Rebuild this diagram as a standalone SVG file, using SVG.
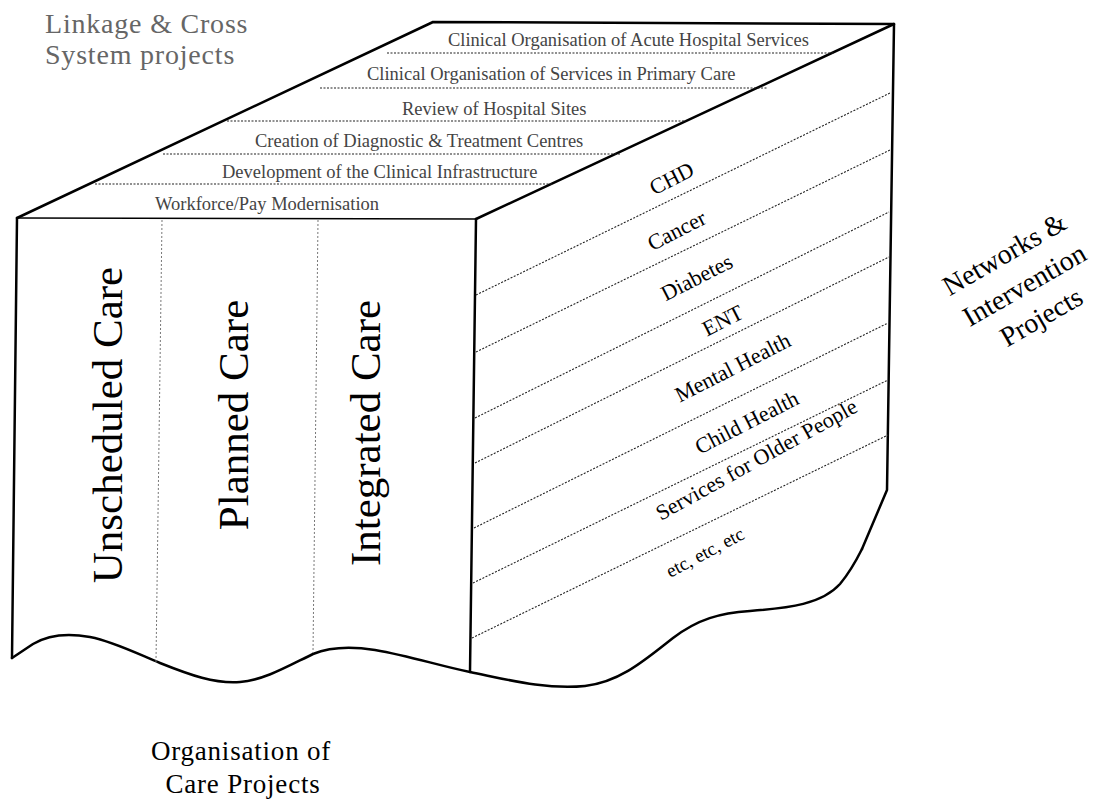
<svg xmlns="http://www.w3.org/2000/svg" width="1101" height="810" viewBox="0 0 1101 810">
<style>
.edge{fill:none;stroke:#000;stroke-width:2.5;stroke-linejoin:round;stroke-linecap:round}
.thin{fill:none;stroke:#000;stroke-width:1.6}
.dot{fill:none;stroke:#222;stroke-width:1.1;stroke-dasharray:2 1.5}
.vdot{fill:none;stroke:#777;stroke-width:1;stroke-dasharray:2 2}
.top{font-family:"Liberation Serif",serif;font-size:18.5px;fill:#444}
.col{font-family:"Liberation Serif",serif;font-size:43px;fill:#000;text-anchor:middle}
.net{font-family:"Liberation Serif",serif;font-size:22px;fill:#000;text-anchor:middle}
.big{font-family:"Liberation Serif",serif;font-size:28px;fill:#000;text-anchor:middle}
.org{font-family:"Liberation Serif",serif;font-size:27px;fill:#000;text-anchor:middle;letter-spacing:0.8px}
.gray{font-family:"Liberation Serif",serif;font-size:28px;fill:#666;letter-spacing:0.8px}
</style>
<rect width="1101" height="810" fill="#fff"/>
<g id="box">
<path class="edge" d="M17,218 L433,22 L894,24 L887,490 L862,549"/>
<path class="edge" d="M476,219 L894,24"/>
<path class="thin" d="M17,218 L476,219"/>
<path class="edge" d="M17,218 L12,658"/>
<path class="edge" d="M476,219 L470,672"/>
<path class="edge" d="M12,658 L33,644 C48,635 68,633 90,637 C115,642 140,655 160,663 C190,675 215,684 240,682 C265,680 290,665 313,654 C330,647 350,646 375,650 C410,656 440,666 470,672 C505,679 545,690 585,686 C620,682 645,660 673,638 C698,619 720,613 750,611 C790,608 822,604 840,584 C850,572 856,561 862,549"/>
</g>
<g id="top-face">
<path class="dot" d="M387,53 L835,53 M320,88 L767,88 M227,121 L686,121 M163,154 L620,154 M95,184 L553,184"/>
<text class="top" x="448" y="46">Clinical Organisation of Acute Hospital Services</text>
<text class="top" x="367" y="80">Clinical Organisation of Services in Primary Care</text>
<text class="top" x="402" y="115">Review of Hospital Sites</text>
<text class="top" x="255" y="147">Creation of Diagnostic &amp; Treatment Centres</text>
<text class="top" x="222" y="178">Development of the Clinical Infrastructure</text>
<text class="top" x="155" y="210">Workforce/Pay Modernisation</text>
</g>
<g id="front-face">
<path class="vdot" d="M162,220 L156,662 M318,220 L313,653"/>
<text class="col" transform="translate(122,425) rotate(-90)">Unscheduled Care</text>
<text class="col" transform="translate(248,415) rotate(-90)">Planned Care</text>
<text class="col" transform="translate(380,433) rotate(-90)">Integrated Care</text>
</g>
<g id="right-face">
<path class="dot" d="M476,295 L890,93 M476,352 L890,150 M475,418 L889,212 M475,463 L889,257 M474,528 L888,323 M473,583 L888,380 M472,638 L888,435"/>
<text class="net" transform="translate(675,185) rotate(-27)">CHD</text>
<text class="net" transform="translate(680,237) rotate(-27)">Cancer</text>
<text class="net" transform="translate(700,284) rotate(-27)">Diabetes</text>
<text class="net" transform="translate(726,327) rotate(-27)">ENT</text>
<text class="net" transform="translate(736,374) rotate(-27)">Mental Health</text>
<text class="net" transform="translate(750,429) rotate(-27)">Child Health</text>
<text class="net" transform="translate(760,466) rotate(-29)">Services for Older People</text>
<text class="net" style="font-size:19px" transform="translate(708,558) rotate(-28)">etc, etc, etc</text>
</g>
<g id="labels">
<text class="gray" x="45" y="33">Linkage &amp; Cross</text>
<text class="gray" x="45" y="64">System projects</text>
<text class="big" transform="translate(1009,262) rotate(-30)">Networks &amp;</text>
<text class="big" transform="translate(1029,293) rotate(-30)">Intervention</text>
<text class="big" transform="translate(1046,325) rotate(-30)">Projects</text>
<text class="org" x="241" y="760">Organisation of</text>
<text class="org" x="243" y="793">Care Projects</text>
</g>
</svg>
